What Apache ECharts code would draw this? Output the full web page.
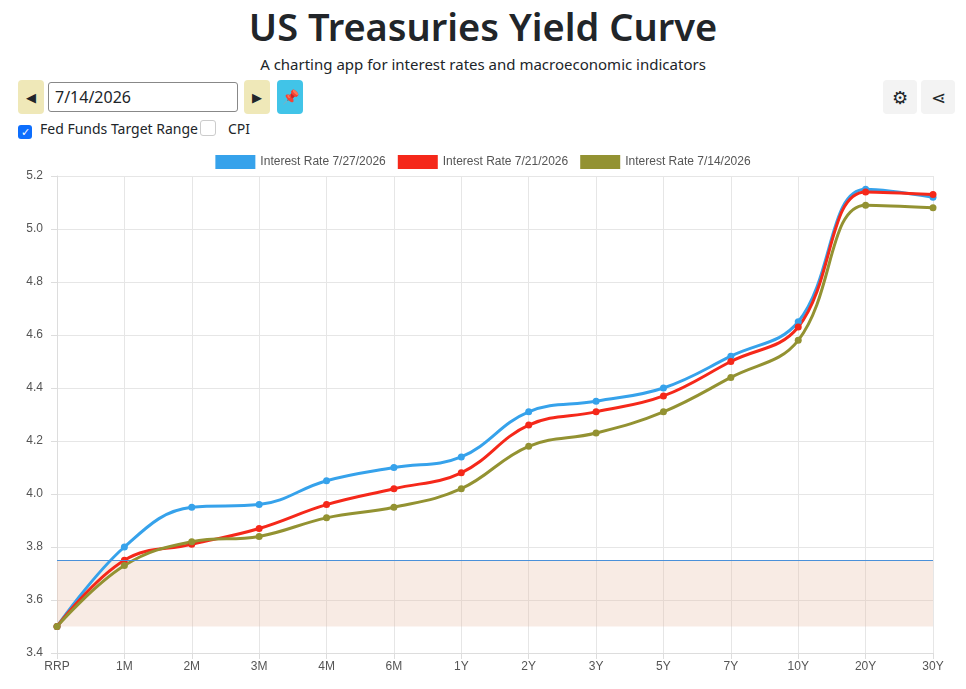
<!DOCTYPE html>
<html>
<head>
<meta charset="utf-8">
<script src="https://cdn.jsdelivr.net/npm/echarts@6/dist/echarts.min.js"></script>
<style>
  body { margin: 0; width: 966px; height: 689px; background: #fff; font-family: "Noto Sans", "Open Sans", sans-serif; position: relative; overflow: hidden; color: #212529; }
  h1 { position: absolute; top: 0; left: 0; width: 966px; margin: 0; text-align: center; font-size: 38px; font-weight: 600; line-height: 52px; }
  .sub { position: absolute; top: 54px; width: 966px; text-align: center; font-size: 15px; }
  .btn { position: absolute; top: 80px; width: 26px; height: 34px; background: #efe8b8; border-radius: 4px; font-size: 13px; text-align: center; line-height: 34px; }
  .inp { position: absolute; top: 82px; left: 48px; width: 182px; height: 28px; border: 1px solid #888; border-radius: 3px; font-size: 16px; line-height: 28px; padding-left: 6px; }
  .pin { position: absolute; top: 80px; left: 277px; width: 26px; height: 34px; background: #41c4e8; border-radius: 4px; text-align: center; line-height: 34px; font-size: 14px; }
  .chk { position: absolute; top: 119px; font-size: 14px; }
  .box { display: inline-block; width: 14px; height: 14px; border-radius: 3px; vertical-align: -2px; margin-right: 8px; }
  .ico { position: absolute; top: 80px; width: 34px; height: 34px; background: #f3f3f3; border-radius: 4px; text-align: center; line-height: 34px; font-size: 18px; }
  #chart { position: absolute; top: 145px; left: 0; width: 966px; height: 544px; }
</style>
</head>
<body>
<h1>US Treasuries Yield Curve</h1>
<div class="sub">A charting app for interest rates and macroeconomic indicators</div>
<div class="btn" style="left:18px">&#9664;</div>
<div class="inp">7/14/2026</div>
<div class="btn" style="left:244px">&#9654;</div>
<div class="pin">&#128204;</div>
<div class="chk" style="left:18px"><span class="box" style="background:#0d6efd;color:#fff;font-size:11px;line-height:14px;text-align:center">&#10003;</span>Fed Funds Target Range</div>
<div class="chk" style="left:200px"><span class="box" style="border:1px solid #ccc;margin-right:12px"></span>CPI</div>
<div class="ico" style="left:883px">&#9881;</div>
<div class="ico" style="left:921px">&#8918;</div>
<div id="chart"></div>
<script>
const categories = ['RRP','1M','2M','3M','4M','6M','1Y','2Y','3Y','5Y','7Y','10Y','20Y','30Y'];
const rate0727 = [3.50,3.80,3.95,3.96,4.05,4.10,4.14,4.31,4.35,4.40,4.52,4.65,5.15,5.12];
const rate0721 = [3.50,3.75,3.81,3.87,3.96,4.02,4.08,4.26,4.31,4.37,4.50,4.63,5.14,5.13];
const rate0714 = [3.50,3.73,3.82,3.84,3.91,3.95,4.02,4.18,4.23,4.31,4.44,4.58,5.09,5.08];
const fedLow = 3.50;
const fedHigh = 3.75;

const chart = echarts.init(document.getElementById('chart'));
const mk = (name, data, color, extra) => Object.assign({
  name, type: 'line', data, smooth: 0.4, symbol: 'circle', symbolSize: 7,
  lineStyle: { width: 3, color }, itemStyle: { color }
}, extra || {});
chart.setOption({
  animation: false,
  legend: {
    top: 5, left: 'center', icon: 'rect', itemWidth: 40, itemHeight: 14, itemGap: 12,
    textStyle: { fontFamily: 'Liberation Sans', fontSize: 12, color: '#555' }
  },
  grid: { left: 57, right: 33, top: 31, bottom: 36 },
  xAxis: {
    type: 'category', data: categories, boundaryGap: false,
    axisLine: { lineStyle: { color: '#ddd' } }, axisTick: { show: true, length: 6, lineStyle: { color: '#ddd' } },
    splitLine: { show: true, lineStyle: { color: '#e6e6e6' } },
    axisLabel: { color: '#555', fontFamily: 'Liberation Sans', fontSize: 12 }
  },
  yAxis: {
    type: 'value', min: 3.4, max: 5.2, interval: 0.2,
    axisLine: { show: true, lineStyle: { color: '#ddd' } }, axisTick: { show: true, length: 6, lineStyle: { color: '#ddd' } },
    splitLine: { lineStyle: { color: '#e6e6e6' } },
    axisLabel: { color: '#555', fontFamily: 'Liberation Sans', fontSize: 12, formatter: v => v.toFixed(1), margin: 14 }
  },
  series: [
    mk('Interest Rate 7/27/2026', rate0727, '#36a2eb', {
      markArea: { silent: true, itemStyle: { color: 'rgba(232,190,165,0.3)' }, data: [[{ yAxis: fedLow }, { yAxis: fedHigh }]] },
      markLine: { silent: true, symbol: 'none', label: { show: false }, lineStyle: { color: '#4a90d9', width: 1, type: 'solid' }, data: [{ yAxis: fedHigh }] }
    }),
    mk('Interest Rate 7/21/2026', rate0721, '#f5281a'),
    mk('Interest Rate 7/14/2026', rate0714, '#939232')
  ]
});
</script>
</body>
</html>
